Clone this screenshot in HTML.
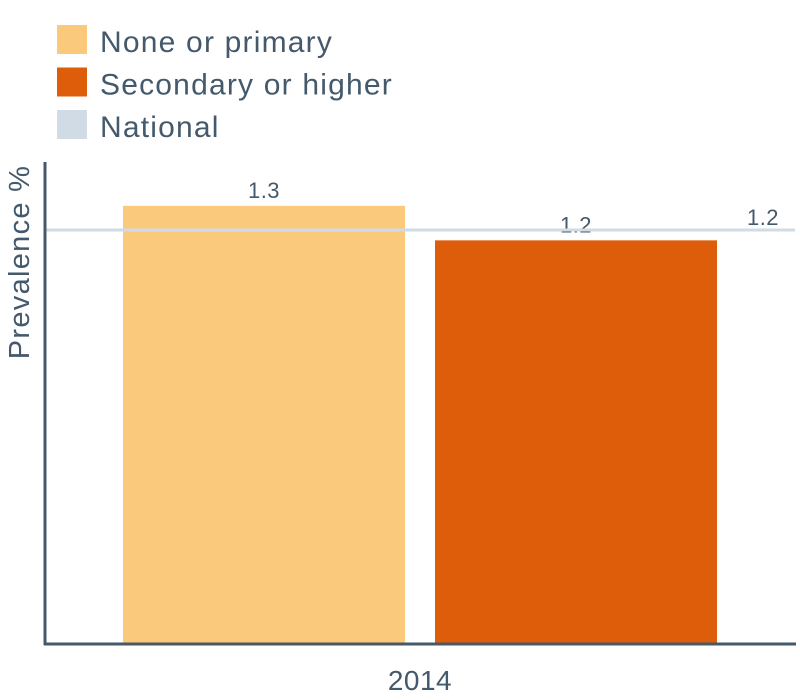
<!DOCTYPE html>
<html><head><meta charset="utf-8"><style>
html,body{margin:0;padding:0;background:#fff;}
svg{display:block;font-family:"Liberation Sans",sans-serif;}
</style></head><body>
<svg id="chart" width="800" height="700">
  <g id="legend"></g>
  <text x="0" y="0" transform="translate(29,262) rotate(-90)" text-anchor="middle" font-size="29" letter-spacing="1.3" fill="#44596b">Prevalence %</text>
  <g id="bars"></g>
  <line x1="45" y1="162" x2="45" y2="645" stroke="#44596b" stroke-width="3"/>
  <line x1="44" y1="644" x2="796" y2="644" stroke="#44596b" stroke-width="3"/>
  <text x="420" y="690" text-anchor="middle" font-size="28" letter-spacing="0.5" fill="#44596b">2014</text>
</svg>
<script>
const categories = ["None or primary", "Secondary or higher"];
const values = [1.27, 1.17];
const nationalValue = 1.2;
const legendLabels = ["None or primary", "Secondary or higher", "National"];

const colors = ["#fbc97b", "#de5d0a", "#d0dbe5"];
const NS = "http://www.w3.org/2000/svg";
const svg = document.getElementById("chart");
const baseY = 644, pxPerUnit = 345;
const y = v => baseY - v * pxPerUnit;
const barX = i => 123 + i * 312, barW = 282;

const legend = document.getElementById("legend");
legendLabels.forEach((t, i) => {
  const r = document.createElementNS(NS, "rect");
  r.setAttribute("x", 57); r.setAttribute("y", 25 + i * 42.5);
  r.setAttribute("width", 30); r.setAttribute("height", 29);
  r.setAttribute("fill", colors[i]);
  
  
  legend.appendChild(r);
  const tx = document.createElementNS(NS, "text");
  tx.setAttribute("x", 100); tx.setAttribute("y", 52 + i * 42.5);
  tx.setAttribute("font-size", "30"); tx.setAttribute("fill", "#44596b");
  tx.setAttribute("letter-spacing", "1.2");
  tx.textContent = t;
  
  
  legend.appendChild(tx);
});

const g = document.getElementById("bars");
values.forEach((v, i) => {
  const r = document.createElementNS(NS, "rect");
  r.setAttribute("x", barX(i)); r.setAttribute("y", y(v));
  r.setAttribute("width", barW); r.setAttribute("height", baseY - y(v));
  r.setAttribute("fill", colors[i]);
  
  
  g.appendChild(r);
  const t = document.createElementNS(NS, "text");
  t.setAttribute("x", barX(i) + barW / 2); t.setAttribute("y", y(v) - 8);
  t.setAttribute("text-anchor", "middle"); t.setAttribute("font-size", "22");
  t.setAttribute("letter-spacing", "0.5");
  t.setAttribute("fill", "#44596b");
  t.textContent = v.toFixed(1);
  
  
  g.appendChild(t);
});
const nl = document.createElementNS(NS, "line");
nl.setAttribute("x1", 46); nl.setAttribute("x2", 795);
nl.setAttribute("y1", y(nationalValue)); nl.setAttribute("y2", y(nationalValue));
nl.setAttribute("stroke", "#d0dbe5"); nl.setAttribute("stroke-width", "3");


g.appendChild(nl);
const nt = document.createElementNS(NS, "text");
nt.setAttribute("x", 763); nt.setAttribute("y", y(nationalValue) - 5);
nt.setAttribute("text-anchor", "middle"); nt.setAttribute("font-size", "22");
nt.setAttribute("letter-spacing", "0.5");
nt.setAttribute("fill", "#44596b");
nt.textContent = nationalValue.toFixed(1);


g.appendChild(nt);
</script>
</body></html>
